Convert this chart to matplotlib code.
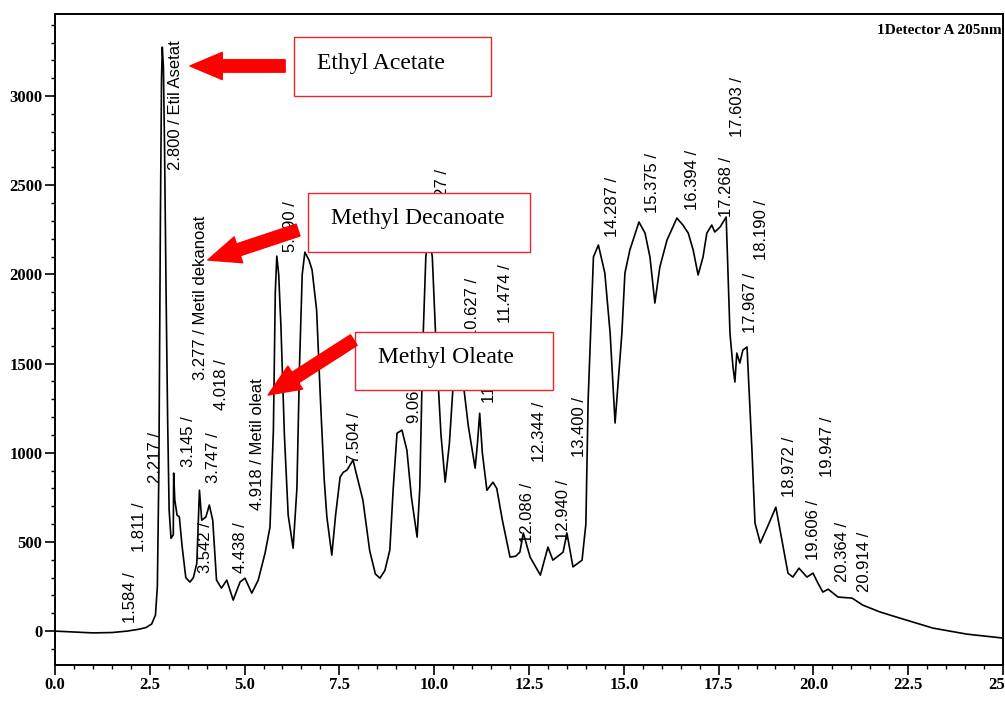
import matplotlib.pyplot as plt
from matplotlib.patches import Rectangle
from matplotlib.ticker import MultipleLocator, FormatStrFormatter

# chromatogram trace (min, signal)
time = [0.0, 0.5, 1.0, 1.5, 1.9, 2.2, 2.4, 2.55, 2.65, 2.7, 2.74, 2.78, 2.81, 2.83, 2.86,
        2.89, 2.93, 2.97, 3.01, 3.06, 3.12, 3.13, 3.16, 3.22, 3.28, 3.35, 3.45, 3.56, 3.65,
        3.74, 3.81, 3.87, 3.98, 4.07, 4.16, 4.26, 4.39, 4.53, 4.7, 4.88, 5.01, 5.19, 5.36,
        5.54, 5.67, 5.76, 5.81, 5.85, 5.9, 5.96, 6.05, 6.15, 6.28, 6.38, 6.45, 6.52, 6.59,
        6.7, 6.78, 6.9, 7.0, 7.1, 7.17, 7.3, 7.4, 7.52, 7.6, 7.7, 7.86, 7.95, 8.12, 8.3,
        8.45, 8.57, 8.7, 8.83, 8.92, 9.02, 9.15, 9.28, 9.4, 9.55, 9.62, 9.7, 9.78, 9.85,
        9.95, 10.05, 10.18, 10.29, 10.4, 10.5, 10.62, 10.75, 10.9, 11.08, 11.14, 11.2,
        11.27, 11.39, 11.55, 11.65, 11.8, 12.0, 12.15, 12.26, 12.35, 12.53, 12.8, 13.0,
        13.13, 13.4, 13.5, 13.66, 13.9, 14.0, 14.06, 14.2, 14.33, 14.5, 14.64, 14.77,
        14.95, 15.03, 15.16, 15.4, 15.56, 15.69, 15.82, 15.95, 16.14, 16.4, 16.56, 16.7,
        16.83, 16.96, 17.09, 17.19, 17.32, 17.4, 17.54, 17.7, 17.8, 17.88, 17.93, 17.98,
        18.06, 18.14, 18.25, 18.38, 18.46, 18.6, 18.8, 19.01, 19.17, 19.33, 19.46, 19.62,
        19.83, 19.99, 20.12, 20.25, 20.39, 20.52, 20.65, 21.02, 21.3, 21.76, 22.28, 23.15,
        24.05, 25.0]
signal = [0, -5, -10, -8, 0, 10, 20, 40, 90, 250, 900, 2300, 3100, 3275, 3160,
          2700, 1900, 1200, 680, 520, 540, 886, 735, 650, 640, 480, 300, 275, 300,
          380, 790, 622, 640, 707, 622, 286, 241, 286, 174, 275, 297, 213, 286,
          437, 583, 1127, 1900, 2103, 2000, 1700, 1100, 650, 465, 800, 1500, 2000, 2125,
          2080, 2025, 1800, 1300, 850, 640, 426, 650, 864, 890, 903, 959, 880, 735, 450,
          320, 297, 340, 454, 800, 1110, 1127, 1015, 750, 527, 800, 1600, 2100, 2230,
          2100, 1600, 1100, 835, 1050, 1380, 1550, 1420, 1150, 914, 1050, 1222,
          1000, 790, 835, 800, 620, 415, 420, 443, 550, 415, 314, 471,
          398, 443, 550, 360, 398, 600, 1295, 2098, 2165, 2008, 1671, 1167,
          1671, 2008, 2137, 2294, 2232, 2098, 1840, 2041, 2193, 2316, 2277, 2232,
          2137, 1997, 2098, 2232, 2277, 2238, 2266, 2322, 1671, 1481, 1397, 1559,
          1503, 1576, 1593, 1015, 606, 494, 590, 695, 510, 325, 303, 353,
          303, 325, 269, 219, 235, 213, 191, 185, 146, 107, 73, 17,
          -17, -39]

# retention time labels printed on the chromatogram
peak_labels = ["1.584 /", "1.811 /", "2.217 /", "2.800 / Etil Asetat", "3.145 /", "3.542 /",
               "3.747 /", "3.277 / Metil dekanoat", "4.018 /", "4.438 /", "4.918 / Metil oleat",
               "5.790 /", "7.504 /", "9.062 /", "9.827 /", "10.627 /", "11.185 /", "11.474 /",
               "12.086 /", "12.344 /", "12.940 /", "13.400 /", "14.287 /", "15.375 /",
               "16.394 /", "17.268 /", "17.603 /", "17.967 /", "18.190 /", "18.972 /",
               "19.606 /", "19.947 /", "20.364 /", "20.914 /"]
label_x = [1.98, 2.24, 2.66, 3.19, 3.53, 3.96, 4.19, 3.85, 4.38, 4.88, 5.35,
           6.22, 7.91, 9.49, 10.23, 11.02, 11.47, 11.87, 12.47, 12.79, 13.4, 13.84,
           14.69, 15.77, 16.8, 17.72, 18.01, 18.33, 18.64, 19.38, 20.0, 20.38, 20.78, 21.36]
label_y = [45, 443, 830, 2585, 920, 325, 830, 1408, 1240, 325, 679,
           2126, 942, 1167, 2305, 1643, 1279, 1727, 494, 948, 510, 976,
           2210, 2344, 2361, 2322, 2771, 1671, 2081, 752, 398, 864, 275, 219]

# red callouts: name, box (x0, x1, y0, y1), arrow tail, arrow tip
callouts = ["Ethyl Acetate", "Methyl Decanoate", "Methyl Oleate"]
boxes = [(6.30, 11.50, 3000, 3331), (6.67, 12.53, 2126, 2457), (7.91, 13.13, 1352, 1677)]
arrow_tail = [(6.07, 3169), (6.41, 2249), (7.88, 1632)]
arrow_tip = [(3.56, 3169), (4.03, 2081), (5.62, 1324)]

fig = plt.figure(figsize=(10.05, 7.04), dpi=100)
ax = fig.add_axes([0.0547, 0.0554, 0.9433, 0.9246])

ax.plot(time, signal, color='black', linewidth=1.2, zorder=2)

for txt, x, y in zip(peak_labels, label_x, label_y):
    ax.text(x, y, txt, rotation=90, ha='center', va='bottom', fontsize=12,
            family='Liberation Sans', color='black', zorder=3)

for name, (x0, x1, y0, y1), tail, tip in zip(callouts, boxes, arrow_tail, arrow_tip):
    ax.add_patch(Rectangle((x0, y0), x1 - x0, y1 - y0, facecolor='white',
                           edgecolor='#e8262d', linewidth=1.0, zorder=5))
    ax.text(x0 + 0.6, (y0 + y1) / 2 + 20, name, ha='left', va='center', fontsize=17,
            family='Liberation Serif', color='black', zorder=6)
    ax.annotate('', xy=tip, xytext=tail, zorder=7,
                arrowprops=dict(arrowstyle='simple,head_length=0.83,head_width=0.7,tail_width=0.32',
                                color='red', mutation_scale=28, shrinkA=0, shrinkB=0))

ax.text(0.999, 0.985, '1Detector A 205nm', transform=ax.transAxes, ha='right', va='top',
        fontsize=11, family='Liberation Serif', fontweight='bold')

ax.set_xlim(0, 25)
ax.set_ylim(-190, 3460)
ax.xaxis.set_major_locator(MultipleLocator(2.5))
ax.xaxis.set_minor_locator(MultipleLocator(0.5))
ax.xaxis.set_major_formatter(FormatStrFormatter('%.1f'))
ax.set_yticks([0, 500, 1000, 1500, 2000, 2500, 3000])
ax.yaxis.set_minor_locator(MultipleLocator(100))
ax.tick_params(which='major', length=7, width=1.2, pad=2)
ax.tick_params(which='minor', length=3, width=1.0)
for lab in ax.get_xticklabels() + ax.get_yticklabels():
    lab.set_family('Liberation Serif')
    lab.set_fontweight('bold')
    lab.set_fontsize(12)
for s in ax.spines.values():
    s.set_linewidth(1.4)

plt.savefig('out.png', dpi=100)
